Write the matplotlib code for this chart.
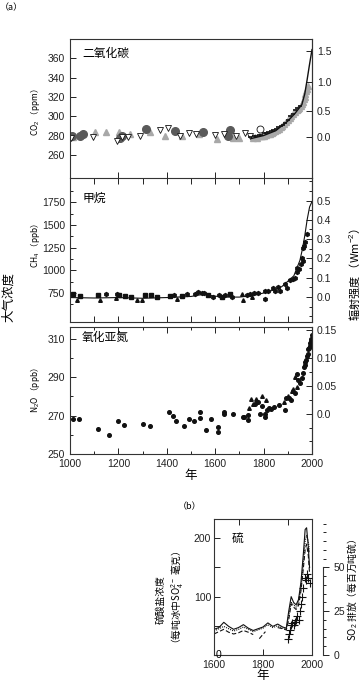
import numpy as np
import matplotlib.pyplot as plt
from matplotlib.ticker import MultipleLocator, FixedLocator, FormatStrFormatter

plt.rcParams['font.family'] = ['Liberation Sans', 'Noto Sans CJK SC']
plt.rcParams['mathtext.fontset'] = 'custom'
plt.rcParams['mathtext.rm'] = 'Liberation Sans'
plt.rcParams['mathtext.it'] = 'Liberation Sans'
plt.rcParams['axes.linewidth'] = 0.8
plt.rcParams['axes.edgecolor'] = '#333333'
CJK = ['Noto Sans CJK SC', 'DejaVu Sans']

# ======================
# Daten (a) CO2
# ======================
co2_circ_year = [1010, 1040, 1055, 1205, 1213, 1314, 1434, 1550, 1654, 1661]
co2_circ_val = [279, 280, 282, 277, 280, 287, 285, 284, 279, 286]

co2_tri_year = [1014, 1103, 1149, 1204, 1248, 1330, 1393, 1462, 1531, 1606, 1675, 1700,
                1758, 1765, 1772, 1780, 1788, 1795, 1803, 1810, 1818, 1825, 1833, 1840,
                1848, 1855, 1863, 1870, 1878, 1885, 1893, 1900, 1908, 1915, 1922, 1930,
                1936, 1942, 1948, 1953, 1958, 1962, 1966, 1970, 1973, 1976, 1979, 1982]
co2_tri_val = [278, 284, 284, 284, 282, 284, 280, 280, 282, 276, 277, 277,
               277, 278, 277, 279, 279, 280, 280, 281, 282, 282, 283, 284,
               285, 286, 287, 289, 290, 292, 294, 296, 298, 300, 302, 304,
               306, 308, 309, 311, 313, 315, 318, 320, 323, 326, 328, 331]

co2_vtri_year = [1005, 1096, 1195, 1215, 1240, 1290, 1370, 1405, 1455, 1492, 1519,
                 1601, 1635, 1684, 1725, 1745]
co2_vtri_val = [277, 278, 274, 278, 278, 280, 286, 288, 280, 283, 282,
                281, 282, 279, 283, 280]

co2_ocirc_year = [1785]
co2_ocirc_val = [286.5]

co2_blk_year = [1745, 1760, 1770, 1780, 1790, 1800, 1810, 1820, 1830, 1840, 1850,
                1860, 1870, 1880, 1890, 1900, 1910, 1920, 1930, 1940, 1950]
co2_blk_val = [278, 279, 280, 281, 281, 283, 283, 284, 285, 286, 287,
               289, 290, 291, 293, 296, 300, 302, 306, 309, 311]

co2_line_year = [1750, 1800, 1850, 1900, 1930, 1958, 1970, 1980, 1990, 2000]
co2_line_val = [277, 280, 285, 295, 303, 312, 323, 338, 354, 369]

# ======================
# Daten (a) CH4
# ======================
ch4_line_year = [1000, 1100, 1200, 1300, 1400, 1500, 1550, 1600, 1650, 1700, 1750,
                 1800, 1850, 1875, 1900, 1925, 1950, 1960, 1970, 1980, 1990, 2000]
ch4_line_val = [700, 695, 700, 692, 700, 712, 735, 715, 705, 705, 720,
                750, 790, 820, 880, 940, 1110, 1230, 1380, 1560, 1700, 1760]

ch4_sq_year = [1011, 1041, 1117, 1204, 1227, 1254, 1310, 1333, 1358, 1413, 1461,
               1569, 1630, 1661]
ch4_sq_val = [744, 715, 725, 730, 720, 705, 730, 730, 708, 715, 715,
              725, 708, 740]

ch4_tri_year = [1030, 1124, 1190, 1275, 1296, 1441, 1709, 1713, 1750]
ch4_tri_val = [672, 668, 700, 676, 676, 683, 740, 672, 708]

ch4_dot_year = [1147, 1193, 1431, 1482, 1517, 1530, 1544, 1554, 1592, 1617, 1640,
                1668, 1730, 1744, 1761, 1778, 1805, 1805, 1819, 1840, 1847, 1860,
                1867, 1888, 1895, 1909, 1923, 1930, 1937, 1940, 1948, 1954, 1957,
                1961, 1963, 1966, 1970, 1978]
ch4_dot_val = [735, 735, 730, 740, 740, 765, 750, 745, 708, 725, 725,
               708, 730, 740, 750, 750, 768, 680, 775, 805, 775, 820,
               775, 850, 805, 890, 900, 920, 980, 1030, 1020, 1070, 1135,
               1100, 1250, 1270, 1310, 1400]

# ======================
# Daten (a) N2O
# ======================
n2o_dot_year = [1014, 1037, 1117, 1161, 1200, 1225, 1303, 1331, 1410, 1424, 1436,
                1472, 1492, 1512, 1537, 1537, 1562, 1581, 1613, 1613, 1636, 1636,
                1675, 1713, 1720, 1734, 1737, 1765, 1778, 1785, 1792, 1806, 1806,
                1813, 1823, 1830, 1844, 1864, 1888, 1894, 1905, 1912, 1929, 1937,
                1944, 1950, 1957, 1962, 1966, 1970, 1973, 1976, 1979, 1982, 1985,
                1988, 1990, 1992, 1994, 1996, 1998]
n2o_dot_val = [268.3, 268.3, 263, 260, 267.4, 265.3, 265.6, 264.6, 272, 270, 267,
               264.6, 268, 267.2, 272, 268.6, 262.3, 268.3, 264, 261.2, 271, 272,
               270.7, 269, 269, 267.5, 270.5, 275.8, 277, 271, 275, 269, 271,
               273, 274, 273.5, 274.5, 275.5, 273, 279, 279, 278, 281.5, 291.5,
               288.5, 287, 289.5, 292, 295, 296, 298, 299, 301, 302, 304.5,
               305, 306, 307.5, 308.5, 310, 312]

n2o_tri_year = [1740, 1748, 1755, 1768, 1792, 1809, 1885, 1900, 1919, 1922, 1930, 1940]
n2o_tri_val = [273.8, 278.8, 276, 278.8, 280, 278, 277, 280, 282.5, 284, 290, 285]

# ======================
# Daten (b) Schwefel
# ======================
sulf_year = [1600, 1620, 1640, 1660, 1680, 1700, 1720, 1740, 1760, 1780, 1800, 1820,
             1840, 1860, 1880, 1895, 1905, 1915, 1925, 1935, 1945, 1955, 1965, 1972,
             1978, 1985, 1990]
sulf_solid = [44, 47, 56, 49, 44, 47, 52, 46, 42, 45, 48, 55,
              49, 53, 48, 46, 75, 100, 90, 86, 95, 125, 175, 215,
              218, 185, 150]
sulf_dot = [41, 45, 49, 45, 41, 44, 48, 44, 40, 43, 46, 52,
            47, 50, 46, 44, 68, 90, 86, 82, 92, 115, 160, 195,
            205, 195, 175]

dash_year = [1600, 1620, 1640, 1660, 1680, 1700, 1720, 1740, 1760, 1770, 1785, 1795,
             1810, 1820, 1860, 1880, 1895, 1905, 1915, 1925, 1935, 1945, 1955, 1965,
             1972, 1978, 1985, 1990]
sulf_dash = [36, 40, 44, 39, 36, 38, 42, 39, 35, np.nan, 28, 33,
             40, np.nan, 47, 45, 43, 60, 88, 82, 78, 85, 110, 150,
             180, 190, 170, 140]

so2_year = [1900, 1905, 1910, 1915, 1920, 1925, 1930, 1935, 1940, 1945, 1950, 1955,
            1960, 1965, 1970, 1975, 1980, 1985, 1990]
so2_val = [9, 12, 14, 17, 18, 17, 19, 20, 22, 20, 25, 29,
           33, 38, 44, 43, 46, 44, 41]

# ======================
# Layout
# ======================
W, H = 363, 681
fig = plt.figure(figsize=(W / 100, H / 100), dpi=100)


def rect(l, t, r, b):
    return [l / W, 1 - b / H, (r - l) / W, (b - t) / H]


ax1 = fig.add_axes(rect(70, 39, 312, 178))
ax2 = fig.add_axes(rect(70, 178, 312, 322))
ax3 = fig.add_axes(rect(70, 327, 312, 454))
axb = fig.add_axes(rect(214, 519, 312, 655))

tick_kw = dict(direction='in', labelsize=7.5, length=4, width=0.7, colors='#222222')

for ax in (ax1, ax2, ax3):
    ax.set_xlim(1000, 2000)
    ax.tick_params(which='both', **tick_kw)
    ax.tick_params(which='minor', length=2.5)

# --- CO2 ---
ax1.plot(co2_tri_year, co2_tri_val, ls='none', marker='^', ms=5, color='#a8a8a8')
ax1.plot(co2_circ_year, co2_circ_val, ls='none', marker='o', ms=5.5, color='#5a5a5a')
ax1.plot(co2_vtri_year, co2_vtri_val, ls='none', marker='v', ms=5, mfc='white',
         mec='#111111', mew=0.6)
ax1.plot(co2_ocirc_year, co2_ocirc_val, ls='none', marker='o', ms=5, mfc='white',
         mec='#111111', mew=0.6)
ax1.plot(co2_blk_year, co2_blk_val, ls='none', marker='_', ms=3, mew=1.2, color='#111111')
ax1.plot(co2_line_year, co2_line_val, color='#111111', lw=1.0)
ax1.set_ylim(236, 380)
ax1.set_yticks([260, 280, 300, 320, 340, 360])
ax1.spines['bottom'].set_visible(False)
ax1.set_xticks([1200, 1400, 1600, 1800])
ax1.tick_params(axis='x', labelbottom=False)
ax1.text(0.05, 0.9, '二氧化碳', transform=ax1.transAxes, family=CJK, fontsize=8.5,
         va='center')

sec1 = ax1.secondary_yaxis('right', functions=(lambda c: 5.35 * np.log(np.clip(c, 1, None) / 278.0),
                                               lambda f: 278.0 * np.exp(f / 5.35)))
sec1.set_yticks([0.0, 0.5, 1.0, 1.5])
sec1.yaxis.set_major_formatter(FormatStrFormatter('%.1f'))
sec1.tick_params(**tick_kw)

# --- CH4 ---
ax2.plot(ch4_line_year, ch4_line_val, color='#111111', lw=0.8)
ax2.plot(ch4_sq_year, ch4_sq_val, ls='none', marker='s', ms=2.6, color='#111111')
ax2.plot(ch4_tri_year, ch4_tri_val, ls='none', marker='^', ms=2.6, color='#111111')
ax2.plot(ch4_dot_year, ch4_dot_val, ls='none', marker='h', ms=2.8, color='#111111')
ax2.set_ylim(430, 2020)
ax2.set_yticks([750, 1000, 1250, 1500, 1750])
ax2.yaxis.set_minor_locator(FixedLocator([625, 875, 1125, 1375, 1625, 1875]))
ax2.xaxis.set_major_locator(MultipleLocator(100))
ax2.tick_params(axis='x', top=True, labelbottom=False)
ax2.text(0.05, 0.86, '甲烷', transform=ax2.transAxes, family=CJK, fontsize=8.5,
         va='center')

sec2 = ax2.secondary_yaxis('right', functions=(lambda c: (c - 706.0) / 2130.0,
                                               lambda f: f * 2130.0 + 706.0))
sec2.set_yticks([0.0, 0.1, 0.2, 0.3, 0.4, 0.5])
sec2.yaxis.set_minor_locator(MultipleLocator(0.05))
sec2.yaxis.set_major_formatter(FormatStrFormatter('%.1f'))
sec2.tick_params(which='both', **tick_kw)
sec2.tick_params(which='minor', length=2.5)

# --- N2O ---
ax3.plot(n2o_dot_year, n2o_dot_val, ls='none', marker='o', ms=2.6, color='#111111')
ax3.plot(n2o_tri_year, n2o_tri_val, ls='none', marker='^', ms=2.6, color='#111111')
ax3.set_ylim(250, 316)
ax3.set_yticks([250, 270, 290, 310])
ax3.yaxis.set_minor_locator(MultipleLocator(10))
ax3.set_xticks([1000, 1200, 1400, 1600, 1800, 2000])
ax3.xaxis.set_minor_locator(MultipleLocator(100))
ax3.tick_params(axis='x', which='both', top=True)
ax3.text(0.05, 0.92, '氧化亚氮', transform=ax3.transAxes, family=CJK, fontsize=8.5,
         va='center')

sec3 = ax3.secondary_yaxis('right', functions=(lambda c: (c - 271.0) / 290.0,
                                               lambda f: f * 290.0 + 271.0))
sec3.set_yticks([0.0, 0.05, 0.10, 0.15])
sec3.set_yticklabels(['0.0', '0.05', '0.10', '0.15'])
sec3.yaxis.set_minor_locator(MultipleLocator(0.025))
sec3.tick_params(which='both', **tick_kw)
sec3.tick_params(which='minor', length=2.5)

# Beschriftungen (a)
fig.text(0 / W, 1 - 8 / H, '（a）', family=CJK, fontsize=6.5, va='center', ha='left')
fig.text(35 / W, 1 - 112 / H, 'CO$_2$ （ppm）', family=CJK, fontsize=6, rotation=90,
         ha='center', va='center')
fig.text(35 / W, 1 - 245 / H, 'CH$_4$ （ppb）', family=CJK, fontsize=6, rotation=90,
         ha='center', va='center')
fig.text(35 / W, 1 - 390 / H, 'N$_2$O （ppb）', family=CJK, fontsize=6, rotation=90,
         ha='center', va='center')
fig.text(9 / W, 1 - 297 / H, '大气浓度', family=CJK, fontsize=9, rotation=90,
         ha='center', va='center')
fig.text(355 / W, 1 - 275 / H, '辐射强度 （Wm$^{-2}$）', family=CJK, fontsize=8,
         rotation=90, ha='center', va='center')
fig.text(191 / W, 1 - 476 / H, '年', family=CJK, fontsize=9, ha='center', va='center')

# ======================
# (b) Schwefel
# ======================
axb.plot(sulf_year, sulf_solid, color='#111111', lw=0.8)
axb.plot(sulf_year, sulf_dot, color='#111111', lw=0.8, ls=(0, (1, 1)))
axb.plot(dash_year, sulf_dash, color='#111111', lw=0.8, ls=(0, (4, 2)))
axb.set_xlim(1600, 2000)
axb.set_ylim(0, 233)
axb.set_xticks([1600, 1800, 2000])
axb.xaxis.set_minor_locator(MultipleLocator(100))
axb.set_yticks([100, 200])
axb.yaxis.set_minor_locator(FixedLocator([50, 150]))
axb.tick_params(which='both', **tick_kw)
axb.tick_params(axis='y', pad=2)
axb.tick_params(axis='x', which='minor', top=True, bottom=False, length=4)
axb.tick_params(axis='y', which='minor', length=4)
axb.text(0.02, 0, '0', transform=axb.get_yaxis_transform(), fontsize=7.5,
         ha='left', va='center')
axb.text(0.18, 200, '硫', transform=axb.get_yaxis_transform(), family=CJK,
         fontsize=8.5, va='center')

axb2 = axb.twinx()
axb2.plot(so2_year, so2_val, ls='none', marker='+', ms=5.5, mew=0.8, color='#111111')
axb2.set_ylim(0, 233 / 3)
for side in ('top', 'bottom', 'left'):
    axb2.spines[side].set_visible(False)
axb2.spines['right'].set_position(('outward', 8))
axb2.spines['right'].set_bounds(0, 50)
axb2.set_yticks([0, 25, 50])
axb2.yaxis.set_minor_locator(MultipleLocator(5))
axb2.tick_params(which='both', direction='out', labelsize=7.5, length=4, width=0.7,
                 colors='#222222')
axb2.tick_params(which='minor', length=2.5)

fig.text(190 / W, 1 - 507 / H, '（b）', family=CJK, fontsize=6.5, ha='center', va='center')
fig.text(161 / W, 1 - 600 / H, '硫酸盐浓度', family=CJK, fontsize=7, rotation=90,
         ha='center', va='center')
fig.text(178 / W, 1 - 600 / H, '（每吨冰中SO$_4^{2-}$ 毫克）', family=CJK, fontsize=7,
         rotation=90, ha='center', va='center')
fig.text(353 / W, 1 - 590 / H, 'SO$_2$ 排放（每百万吨硫）', family=CJK, fontsize=7,
         rotation=90, ha='center', va='center')
fig.text(263 / W, 1 - 675 / H, '年', family=CJK, fontsize=9, ha='center', va='center')

fig.savefig('out.png', dpi=100)
